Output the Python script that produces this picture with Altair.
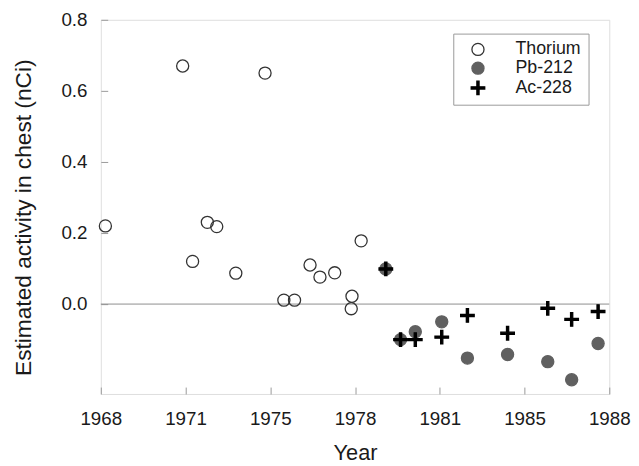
import altair as alt
import pandas as pd

# ---- data ----
series = ["Thorium", "Pb-212", "Ac-228"]

thorium_year = [1968.18, 1971.22, 1971.61, 1972.19, 1972.56, 1973.31, 1974.46, 1975.20,
                1975.62, 1976.23, 1976.62, 1977.20, 1977.85, 1977.88, 1978.24]
thorium_val = [0.220, 0.670, 0.120, 0.230, 0.218, 0.087, 0.650, 0.011,
               0.011, 0.110, 0.076, 0.088, -0.013, 0.022, 0.178]

pb_year = [1979.21, 1979.79, 1980.37, 1981.41, 1982.42, 1984.00, 1985.58, 1986.52, 1987.56]
pb_val = [0.099, -0.100, -0.078, -0.050, -0.152, -0.142, -0.162, -0.213, -0.111]

ac_year = [1979.21, 1979.79, 1980.37, 1981.41, 1982.42, 1984.00, 1985.58, 1986.52, 1987.56]
ac_val = [0.099, -0.100, -0.100, -0.093, -0.032, -0.082, -0.012, -0.043, -0.021]

x_tick_values = [1968, 1971.333, 1974.667, 1978, 1981.333, 1984.667, 1988]
y_tick_values = [0.0, 0.2, 0.4, 0.6, 0.8]
x_domain = [1968, 1988]
y_domain = [-0.253, 0.8]
zero_line = {"x0": [1968], "x1": [1988], "y0": [0.0]}

# ---- tables ----
rows = []
for name, xs_, ys_ in [("Thorium", thorium_year, thorium_val),
                       ("Pb-212", pb_year, pb_val),
                       ("Ac-228", ac_year, ac_val)]:
    for xv, yv in zip(xs_, ys_):
        rows.append({"year": xv, "value": yv, "isotope": name})
df = pd.DataFrame(rows)
zdf = pd.DataFrame(zero_line)

FONT = "Liberation Sans"
TXT = "#1a1a1a"
GRID = "#999999"

cross = "M-1.12,-0.18H-0.18V-1.12H0.18V-0.18H1.12V0.18H0.18V1.12H-0.18V0.18H-1.12Z"

xs = alt.Scale(domain=x_domain, nice=False, zero=False)
ys = alt.Scale(domain=y_domain, nice=False, zero=False)

leg = alt.Legend(
    orient="none", legendX=357, legendY=14, title=None,
    strokeColor=GRID, fillColor="white", padding=7,
    symbolOffset=9, labelOffset=29, rowPadding=1,
    symbolSize=150, symbolStrokeWidth=1.3,
    labelFont=FONT, labelFontSize=18, labelColor=TXT,
    labelExpr="datum.label + '\u00a0\u00a0\u00a0\u00a0'",
)

pts = alt.Chart(df).mark_point(size=150, strokeWidth=1.3, opacity=1, filled=True,
                                fillOpacity=1, strokeOpacity=1).encode(
    x=alt.X("year:Q", scale=xs, axis=alt.Axis(
        orient="bottom",
        values=x_tick_values, format=".0f", ticks=False, tickSize=0, domain=False, grid=False,
        labelFont=FONT, labelFontSize=19, labelColor=TXT, labelPadding=16,
        labelFlush=False, labelOverlap=False,
        title="Year", titleFont=FONT, titleFontSize=22, titleFontWeight="normal",
        titleColor=TXT, titlePadding=14)),
    y=alt.Y("value:Q", scale=ys, axis=alt.Axis(
        orient="left",
        values=y_tick_values, format=".1f", ticks=False, tickSize=0, domain=False, grid=False,
        labelFont=FONT, labelFontSize=19, labelColor=TXT, labelPadding=14,
        labelFlush=False, labelOverlap=False,
        title="Estimated activity in chest (nCi)", titleFont=FONT, titleFontSize=23,
        titleFontWeight="normal", titleColor=TXT, titlePadding=26, titleY=200)),
    shape=alt.Shape("isotope:N", scale=alt.Scale(domain=series, range=["circle", "circle", cross]), legend=leg),
    fill=alt.Fill("isotope:N", scale=alt.Scale(domain=series, range=["transparent", "#606060", "#000000"]), legend=leg),
    stroke=alt.Stroke("isotope:N", scale=alt.Scale(domain=series, range=["#333333", "#606060", "#000000"]), legend=leg),
)

zero = alt.Chart(zdf).mark_rule(color="#8c8c8c", strokeWidth=1).encode(
    x=alt.X("x0:Q", scale=xs, axis=alt.Axis(
        values=x_tick_values, orient="bottom", offset=-7, tickSize=7, tickColor=GRID,
        labels=False, domain=False, grid=False, title=None)),
    x2="x1:Q",
    y=alt.Y("y0:Q", scale=ys, axis=alt.Axis(
        values=y_tick_values, orient="left", offset=-7, tickSize=7, tickColor=GRID,
        labels=False, domain=False, grid=False, title=None)),
)

chart = alt.layer(zero, pts).resolve_scale(x="independent", y="independent").properties(
    width=515, height=379,
    padding={"left": 4, "top": 0, "right": 0, "bottom": 0},
).configure_view(stroke=GRID, strokeWidth=1).configure(background="white")

chart.save("out.html", embed_options={"renderer": "svg", "actions": False})
